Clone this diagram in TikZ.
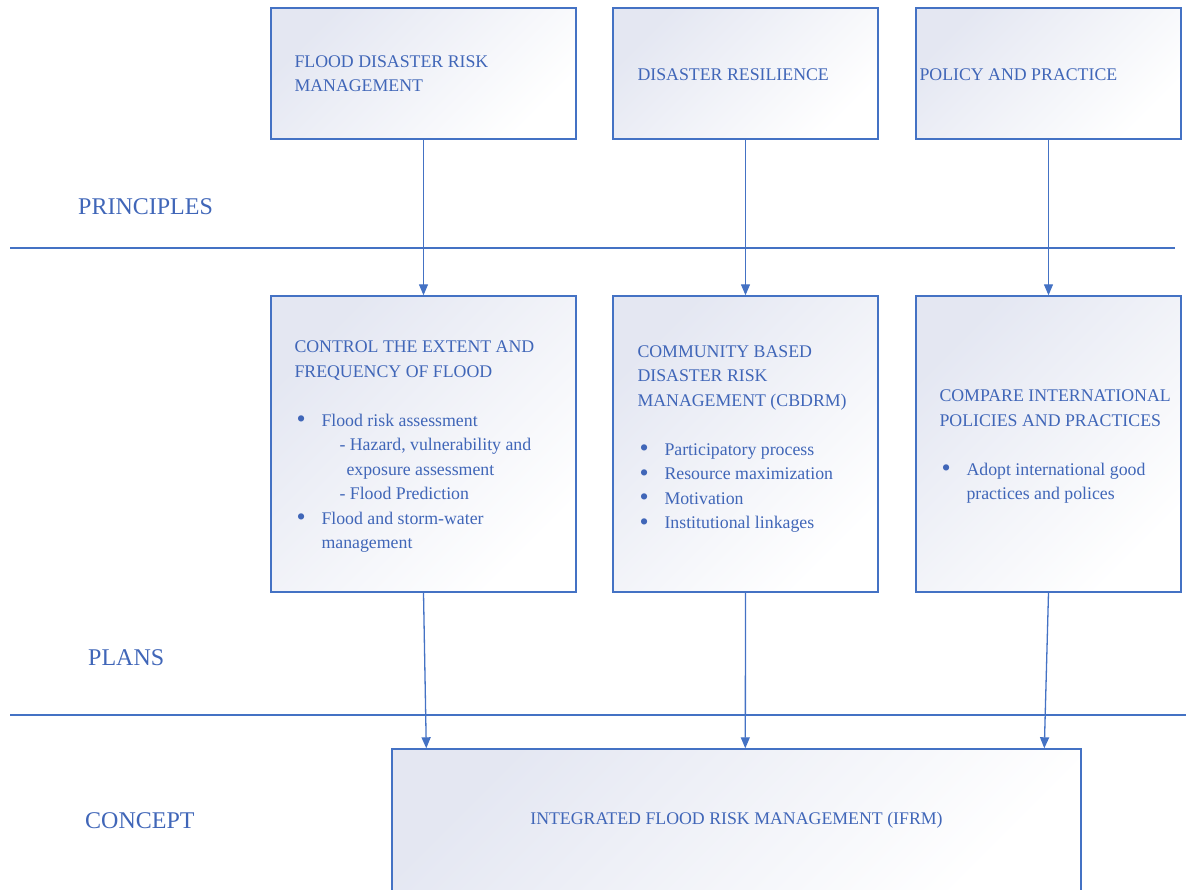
\documentclass[tikz,border=0pt]{standalone}
\usepackage{fontspec}
\setmainfont{Liberation Serif}
\usetikzlibrary{arrows.meta, positioning, calc}

\definecolor{ifrmblue}{HTML}{4472C4}
\definecolor{ifrmtext}{HTML}{4066B8}
\definecolor{ifrmshade}{HTML}{E4E7F2}

\tikzset{
  panel/.style={rectangle, draw=ifrmblue, line width=1.4pt, shading=axis,
    top color=ifrmshade, middle color=ifrmshade!25, bottom color=white,
    shading angle=45, inner sep=0pt},
  paneltext/.style={anchor=west, inner sep=0pt, align=left, text=ifrmtext,
    font=\fontsize{17.8}{24.5}\selectfont},
  levellabel/.style={anchor=west, inner sep=0pt, text=ifrmtext,
    font=\fontsize{24}{28}\selectfont},
  divider/.style={draw=ifrmblue, line width=1.3pt},
  link/.style={draw=ifrmblue, line width=1.3pt, -{Triangle[length=11pt,width=9pt]}}
}
\newcommand{\bul}{\hspace*{2pt}\makebox[25pt][l]{\raisebox{-1.5pt}{\fontsize{26}{24}\selectfont\textbullet}}}
\newcommand{\ind}[1]{\hspace*{#1pt}}

\begin{document}
\begin{tikzpicture}[x=1pt, y=-1pt]
  \path[use as bounding box, clip] (0,0) rectangle (1187,890);

  % principles
  \node[panel, minimum width=305pt, minimum height=131pt] (fdrm) at (423.5,73.5) {};
  \node[panel, minimum width=265pt, minimum height=131pt] (resil) at (745.5,73.5) {};
  \node[panel, minimum width=265pt, minimum height=131pt] (policy) at (1048.5,73.5) {};
  \node[paneltext] at ([xshift=24pt]fdrm.west) {FLOOD DISASTER RISK\\MANAGEMENT};
  \node[paneltext] at ([xshift=25pt,yshift=-1pt]resil.west) {DISASTER RESILIENCE};
  \node[paneltext] at ([xshift=4pt,yshift=-1pt]policy.west) {POLICY AND PRACTICE};

  % plans
  \node[panel, minimum width=305pt, minimum height=296pt] (control) at (423.5,444) {};
  \node[panel, minimum width=265pt, minimum height=296pt] (cbdrm) at (745.5,444) {};
  \node[panel, minimum width=265pt, minimum height=296pt] (compare) at (1048.5,444) {};
  \node[paneltext] at ([xshift=24pt,yshift=-3pt]control.west) {CONTROL THE EXTENT AND\\
    FREQUENCY OF FLOOD\\[24.5pt]
    \bul Flood risk assessment\\
    \ind{45}- Hazard, vulnerability and\\
    \ind{52}exposure assessment\\
    \ind{45}- Flood Prediction\\
    \bul Flood and storm-water\\
    \ind{27}management};
  \node[paneltext] at ([xshift=25pt,yshift=5pt]cbdrm.west) {COMMUNITY BASED\\
    DISASTER RISK\\
    MANAGEMENT (CBDRM)\\[24.5pt]
    \bul Participatory process\\
    \bul Resource maximization\\
    \bul Motivation\\
    \bul Institutional linkages};
  \node[paneltext] at ([xshift=24pt,yshift=-3pt]compare.west) {COMPARE INTERNATIONAL\\
    POLICIES AND PRACTICES\\[24.5pt]
    \bul Adopt international good\\
    \ind{27}practices and polices};

  % concept
  \node[panel, minimum width=689pt, minimum height=142pt] (ifrm) at (736.5,820)
    {\textcolor{ifrmtext}{\fontsize{17.8}{24.5}\selectfont INTEGRATED FLOOD RISK MANAGEMENT (IFRM)}};

  % levels
  \node[levellabel] (principles) at (78,207) {PRINCIPLES};
  \node[levellabel] (plans) at (88,658) {PLANS};
  \node[levellabel] (concept) at (85,821) {CONCEPT};
  \draw[divider] (10,248) -- (1175,248);
  \draw[divider] (10,715) -- (1186,715);

  % links
  \draw[link] (fdrm.south) -- (control.north);
  \draw[link] (resil.south) -- (cbdrm.north);
  \draw[link] (policy.south) -- (compare.north);
  \draw[link] (control.south) -- ([xshift=35pt]ifrm.north west);
  \draw[link] (cbdrm.south) -- ([xshift=354pt]ifrm.north west);
  \draw[link] (compare.south) -- ([xshift=653pt]ifrm.north west);
\end{tikzpicture}
\end{document}
